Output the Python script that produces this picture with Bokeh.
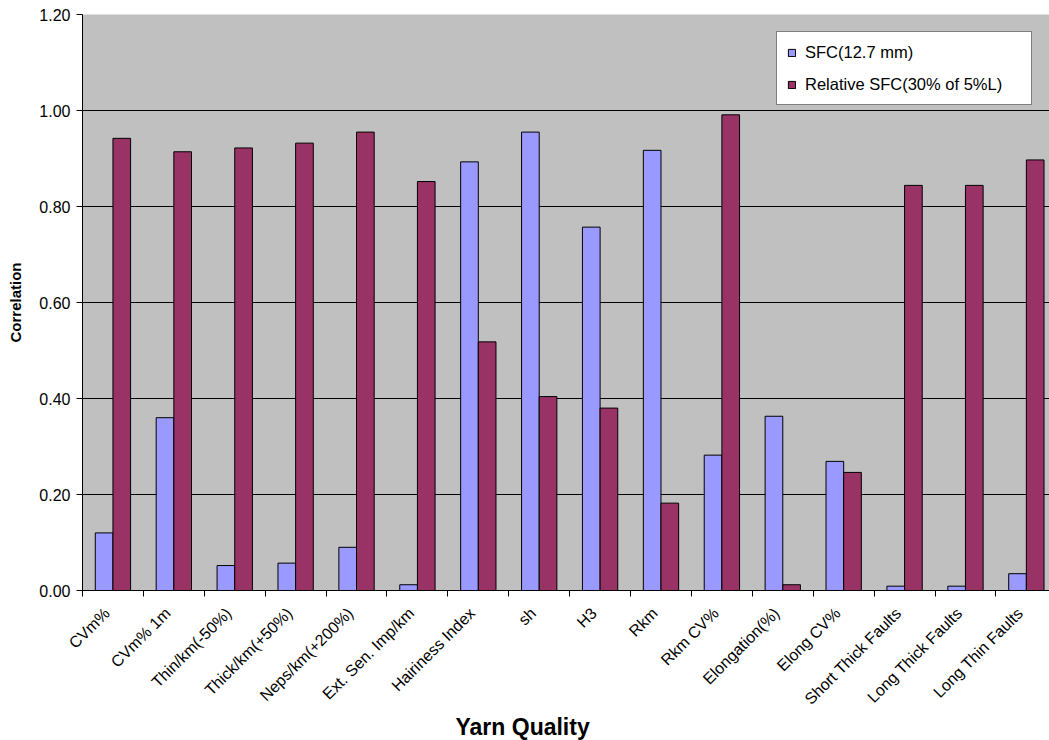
import math
from bokeh.plotting import figure
from bokeh.models import (FixedTicker, Range1d, Legend, LegendItem, ColumnDataSource,
                          CustomJSTickFormatter, NumeralTickFormatter, Title)
from bokeh.transform import dodge
from bokeh.embed import file_html
from bokeh.resources import INLINE

categories = ["CVm%", "CVm% 1m", "Thin/km(-50%)", "Thick/km(+50%)", "Neps/km(+200%)",
              "Ext. Sen. Imp/km", "Hairiness Index", "sh", "H3", "Rkm", "Rkm CV%",
              "Elongation(%)", "Elong CV%", "Short Thick Faults", "Long Thick Faults",
              "Long Thin Faults"]
sfc = [0.120, 0.360, 0.052, 0.057, 0.090, 0.012, 0.893, 0.955, 0.757, 0.917, 0.282,
       0.363, 0.269, 0.009, 0.009, 0.035]
rel_sfc = [0.942, 0.914, 0.922, 0.932, 0.955, 0.852, 0.518, 0.404, 0.380, 0.182, 0.991,
           0.012, 0.246, 0.844, 0.844, 0.897]
y_ticks = [0.0, 0.2, 0.4, 0.6, 0.8, 1.0, 1.2]
series_names = ["SFC(12.7 mm)", "Relative SFC(30% of 5%L)"]

n = len(categories)
src = ColumnDataSource(dict(x=[i + 0.5 for i in range(n)], sfc=sfc, rel=rel_sfc))

FONT = "Liberation Sans"

# the original chart's plot area runs slightly past the right edge of the picture
p = figure(width=1049, height=740, x_range=Range1d(0, n - 0.12), y_range=Range1d(0, 1.2),
           output_backend="svg", toolbar_location=None,
           min_border_left=82, min_border_top=14, min_border_right=0, min_border_bottom=150)
p.background_fill_color = "#C0C0C0"
p.border_fill_color = "white"
p.outline_line_color = None

r1 = p.vbar(x=dodge("x", -0.145, range=p.x_range), top="sfc", width=0.29, source=src,
            fill_color="#9999FF", line_color="black", line_width=1)
r2 = p.vbar(x=dodge("x", 0.145, range=p.x_range), top="rel", width=0.29, source=src,
            fill_color="#993366", line_color="black", line_width=1)

# x axis: labels near category centres, tick marks at category boundaries
xa = p.xaxis[0]
xa.ticker = FixedTicker(ticks=[i + 0.4 for i in range(n)], minor_ticks=list(range(n + 1)))
xa.formatter = CustomJSTickFormatter(args=dict(labels=categories),
                                     code="return labels[Math.floor(tick)] || '';")
xa.major_tick_in = 0
xa.major_tick_out = 0
xa.minor_tick_in = 0
xa.minor_tick_out = 6
xa.minor_tick_line_color = "black"
xa.axis_line_color = "black"
xa.major_label_orientation = math.pi / 4
xa.major_label_standoff = 14
xa.major_label_text_font = FONT
xa.major_label_text_font_size = "16px"
xa.major_label_text_color = "black"

ya = p.yaxis[0]
ya.ticker = FixedTicker(ticks=y_ticks)
ya.formatter = NumeralTickFormatter(format="0.00")
ya.major_tick_in = 0
ya.major_tick_out = 6
ya.minor_tick_out = 0
ya.minor_tick_in = 0
ya.axis_line_color = "black"
ya.major_tick_line_color = "black"
ya.major_label_standoff = 6
ya.major_label_text_font = FONT
ya.major_label_text_font_size = "16px"
ya.major_label_text_color = "black"
ya.axis_label = "Correlation"
ya.axis_label_text_font = FONT
ya.axis_label_text_font_size = "15px"
ya.axis_label_text_font_style = "bold"
ya.axis_label_text_color = "black"
ya.axis_label_standoff = 12

p.xgrid.visible = False
p.ygrid.ticker = FixedTicker(ticks=y_ticks)
p.ygrid.grid_line_color = "black"
p.ygrid.grid_line_width = 1

legend = Legend(items=[LegendItem(label=series_names[0], renderers=[r1]),
                       LegendItem(label=series_names[1], renderers=[r2])],
                location="top_right")
legend.margin = 17
legend.padding = 10
legend.spacing = 12
legend.glyph_width = 9
legend.glyph_height = 9
legend.label_height = 20
legend.label_standoff = 9
legend.label_width = 216
legend.label_text_font = FONT
legend.label_text_font_size = "16.5px"
legend.label_text_color = "black"
legend.border_line_color = "black"
legend.border_line_width = 1
legend.background_fill_color = "white"
legend.background_fill_alpha = 1
p.add_layout(legend)

p.add_layout(Title(text="Yarn Quality", align="left", offset=373, standoff=-10,
                   text_font=FONT, text_font_size="23px", text_font_style="bold",
                   text_color="black"), "below")

open("out.html", "w").write(file_html(p, INLINE))
